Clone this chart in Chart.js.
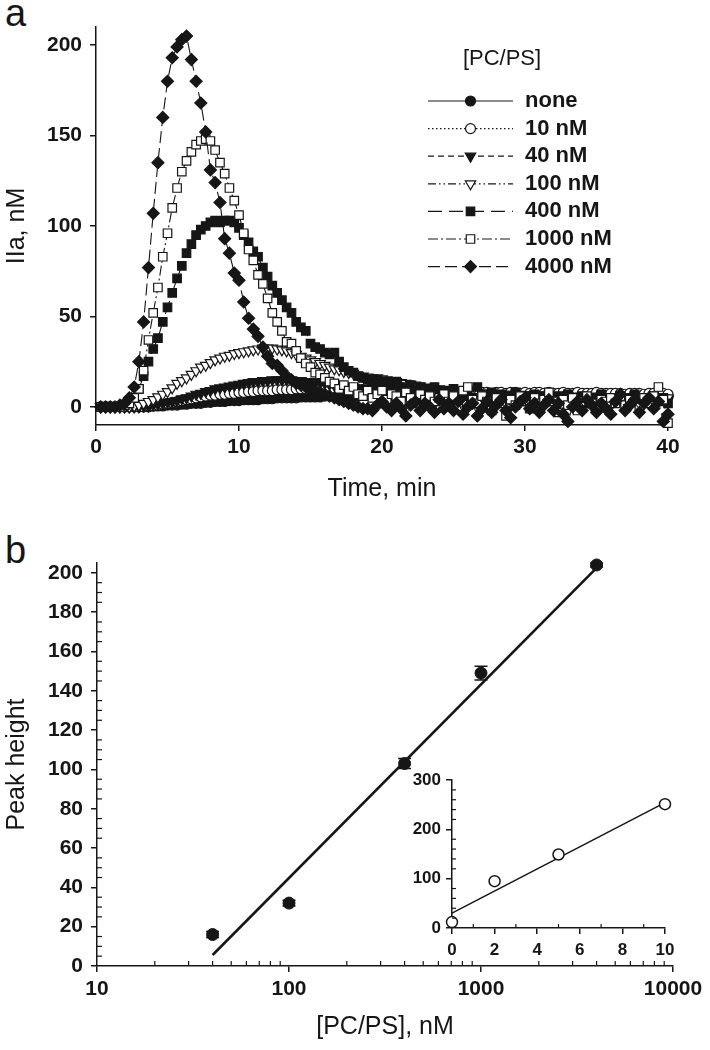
<!DOCTYPE html>
<html>
<head>
<meta charset="utf-8">
<script src="https://cdn.jsdelivr.net/npm/chart.js@4.4.1/dist/chart.umd.min.js"></script>
<style>
  body { margin: 0; background: #fff; width: 710px; height: 1050px; position: relative; overflow: hidden;
         font-family: "Liberation Sans", Arial, Helvetica, sans-serif; }
  canvas { position: absolute; }
  .tag { position: absolute; left: 5px; font-size: 38px; line-height: 1; color: #161616; }
</style>
</head>
<body>
<div class="tag" style="top:-6px">a</div>
<div class="tag" style="top:531px">b</div>
<canvas id="curves" width="710" height="510" style="left:0;top:0"></canvas>
<canvas id="peaks" width="710" height="550" style="left:0;top:500px"></canvas>
<canvas id="inset" width="290" height="200" style="left:400px;top:760px"></canvas>
<script>
// ---- panel a: thrombin generation curves ----
const TIME = [
  0.33,0.67,1,1.33,1.67,2,2.33,2.67,3,3.33,3.67,4,
  4.33,4.67,5,5.33,5.67,6,6.33,6.67,7,7.33,7.67,8,
  8.33,8.67,9,9.33,9.67,10,10.33,10.67,11,11.33,11.67,12,
  12.33,12.67,13,13.33,13.67,14,14.33,14.67,15,15.33,15.67,16,
  16.33,16.67,17,17.33,17.67,18,18.33,18.67,19,19.33,19.67,20,
  20.33,20.67,21,21.33,21.67,22,22.33,22.67,23,23.33,23.67,24,
  24.33,24.67,25,25.33,25.67,26,26.33,26.67,27,27.33,27.67,28,
  28.33,28.67,29,29.33,29.67,30,30.33,30.67,31,31.33,31.67,32,
  32.33,32.67,33,33.33,33.67,34,34.33,34.67,35,35.33,35.67,36,
  36.33,36.67,37,37.33,37.67,38,38.33,38.67,39,39.33,39.67,40
];
const NONE = [
  0,0,0,0,0,0,0,0,0,0,0,0.5,
  0.5,0.5,1,1,1,1.5,1.5,2,2,2,2.5,2.5,
  3,3,3,3.5,3.5,3.5,4,4,4,4,4.5,4.5,
  4.5,5,5,5,5,5,5.5,5.5,5.5,5.5,5.5,6,
  6,6,6,6,6,6,6,6.5,6.5,6.5,6.5,6.5,
  6.5,6.5,6.5,6,6.5,6.5,6.5,6.5,6,6.5,6.5,6.5,
  6.5,6,6.5,6.5,6,6.5,6.5,6,6.5,6.5,6,6.5,
  6,6.5,6,6.5,6,6,6.5,6,6,6.5,6,6,
  6,6,6.5,6,6,5.5,6,6,5.5,6,6,5.5,
  6,5.5,6,5.5,6,5.5,5.5,6,5.5,5.5,6,5.5
];
const NM10 = [
  0,0,0,0,0,0,0,0,0,0,0.5,0.5,
  1,1.5,2,2.5,3,3.5,4,4.5,5,5.5,6,6.5,
  6.5,7,7,7.5,7.5,8,8,8.5,8.5,9,9,9,
  9,9.5,9.5,9.5,9.5,10,10,10,10,10,10,10,
  10,10,10,10,9.5,9.5,9.5,9.5,9.5,9,9,9,
  9,9,9,9,8.5,8.5,8.5,8.5,8.5,8.5,8.5,8,
  8,8,8,8,8,8,8,8,8,8,7.5,8,
  8,7.5,8,8,7.5,8,7.5,8,8,7.5,8,7.5,
  7.5,8,7.5,7.5,8,7.5,7.5,7.5,8,7.5,7.5,7.5,
  7.5,7.5,7,7.5,7.5,7.5,7,7.5,7.5,7,7.5,7
];
const NM40 = [
  0,0,0,0,0,0,0,0,0,0.5,0.5,1,
  1.5,2,2.5,3,3.5,4.5,5,6,7,7.5,8.5,9,
  10,10.5,11,11.5,12,12.5,13,13.5,14,14,14.5,14.5,
  15,15,15,15,15,14.5,14.5,14,14,13.5,13.5,13,
  12.5,12,12,11.5,11,11,10.5,10,10,9.5,9.5,9,
  9,8.5,8.5,8,8,7.5,7.5,7,7,7,6.5,6.5,
  6.5,6,6,6,6,5.5,5.5,5.5,5.5,5,5,5,
  5,5,5,5,4.5,5,4.5,5,4.5,4.5,5,4.5,
  4.5,4.5,4.5,5,4.5,4.5,4.5,4.5,4,4.5,4.5,4.5,
  4.5,4,4.5,4.5,4,4.5,4,4.5,4,4,4.5,4
];
const NM100 = [
  0,0,0,0,0,0,0,0.5,1,2,3,4,
  5.5,7,8.5,10.5,13,14.5,16,18,20,22,23,24.5,
  26,27,28,28.5,29.5,30,30.5,31,31.5,32,32.5,32.5,
  32.5,32,31.5,31,30,29,28,27,26,25,24,23,
  22,21,20.5,19.5,19,18.5,17.5,17,16.5,16,16,15.5,
  15,14.5,14,13.5,13,12.5,12,11.5,11,10.5,10,10,
  9.5,9,9,8.5,8.5,8,8,8,7.5,7.5,7.5,7,
  7,7,7,6.5,7,6.5,6.5,6.5,6,6.5,6,6,
  6,6,6,5.5,6,5.5,5.5,6,5.5,5.5,5.5,5.5,
  5.5,5.5,5,5.5,5.5,5,5.5,5,5,5.5,5,5
];
const NM400 = [
  0,0,0,0,0,1,2,5,10,17,25,32,
  38,47,55,63,71,78,85,90,95,98,100,102,
  103,102,103,103,102,99,95,91,86,83,77,72,
  67,63,59,55,52,47,44,42,35,33,32,30,
  29,30,25,22,20,19,17,16,15,14,15,13,
  14,12,14,11,10,12,9,11,8,10,11,8,
  9,7,10,6,8,9,5,11,7,6,8,5,
  7,4,6,8,3,6,5,7,4,6,3,5,
  6,4,7,3,5,6,2,5,4,7,3,5,
  4,6,3,5,7,2,5,4,6,3,5,2
];
const NM1000 = [
  0,0,0,0,0,1,2,5,10,20,37,52,
  66,83,96,110,121,130,136,141,145,147,148,147,
  142,135,129,121,114,106,96,87,81,73,68,60,
  52,47,42,36,35,31,27,24,22,19,18,16,
  14,13,10,12,9,11,7,6,9,5,7,9,
  4,7,6,3,8,5,2,7,4,6,3,5,
  7,3,6,-1,9,11,4,2,6,3,-2,5,
  2,-5,4,1,6,3,-1,5,2,4,8,3,
  -3,4,1,5,-2,3,6,2,-1,4,3,5,
  2,6,1,4,3,0,5,2,6,11,4,-9
];
const NM4000 = [
  0,0,0,0,1,2,5,11,25,47,77,107,
  135,160,180,193,199,203,205,192,180,168,152,131,
  124,113,93,85,74,70,58,49,43,39,33,28,
  24,23,20,17,15,13,12,11,10,9,8,7,
  6,5,4,3,2,1,0,-1,-1,-2,1,3,
  0,-2,2,-1,-5,1,3,-2,2,0,-3,4,
  -1,2,-2,3,-4,0,2,-5,-1,3,-3,1,
  4,-2,-6,0,3,5,-1,2,-3,1,4,-2,
  2,-4,-8,0,3,-2,4,1,-3,2,-1,-4,
  3,7,-2,1,4,-3,2,5,-1,3,-8,-4
];
const SERIES = [NONE, NM10, NM40, NM100, NM400, NM1000, NM4000];
const SERIES_LABELS = ['none', '10 nM', '40 nM', '100 nM', '400 nM', '1000 nM', '4000 nM'];
const LEGEND_TITLE = '[PC/PS]';
const TIME_TICKS = [0, 10, 20, 30, 40];
const IIA_TICKS = [0, 50, 100, 150, 200];

// ---- panel b: peak height vs phospholipid ----
const PCPS = [40, 100, 400, 1000, 4000];
const PEAK = [16, 32, 103, 149, 204];
const PEAK_ERR = [1.5, 1.5, 2.5, 3.5, 1];
const FIT_X = [40, 4000];
const FIT_Y = [5.6, 202.5];
const PCPS_TICKS = [10, 100, 1000, 10000];
const PEAK_TICKS = [0, 20, 40, 60, 80, 100, 120, 140, 160, 180, 200];

// inset
const INSET_X = [0, 2, 5, 10];
const INSET_Y = [12, 95, 149, 251];
const INSET_FIT_X = [0, 10];
const INSET_FIT_Y = [30, 254];
const INSET_X_TICKS = [0, 2, 4, 6, 8, 10];
const INSET_Y_TICKS = [0, 100, 200, 300];

const INK = '#161616';
const FONT = '"Liberation Sans", Arial, Helvetica, sans-serif';

// marker and dash look of each curve, same order as SERIES
const STYLES = [
  { dash: [],                     point: 'circle',   rot: 0,   fill: INK,    r: 5 },
  { dash: [1.5, 2.5],             point: 'circle',   rot: 0,   fill: '#fff', r: 5 },
  { dash: [6, 4],                 point: 'triangle', rot: 180, fill: INK,    r: 6 },
  { dash: [8, 3, 1.5, 3, 1.5, 3], point: 'triangle', rot: 180, fill: '#fff', r: 6 },
  { dash: [14, 7],                point: 'rect',     rot: 0,   fill: INK,    r: 6 },
  { dash: [10, 3, 2, 3],          point: 'rect',     rot: 0,   fill: '#fff', r: 6 },
  { dash: [12, 5],                point: 'rectRot',  rot: 0,   fill: INK,    r: 6 },
];

Chart.defaults.animation = false;
Chart.defaults.responsive = false;
Chart.defaults.devicePixelRatio = 1;
Chart.defaults.plugins.legend.display = false;
Chart.defaults.plugins.tooltip.enabled = false;
Chart.defaults.font.family = FONT;
Chart.defaults.color = INK;

const pts = (xs, ys) => xs.map((x, i) => ({ x: x, y: ys[i] }));
const fixTicks = list => s => { s.ticks = list.map(v => ({ value: v })); };

// short ticks pointing into the plot (minor ticks)
const innerTicks = {
  id: 'innerTicks',
  afterDraw(chart, args, opts) {
    const ctx = chart.ctx;
    ctx.save();
    ctx.strokeStyle = INK;
    ctx.lineWidth = 1.2;
    (opts.list || []).forEach(m => {
      const s = chart.scales[m.axis];
      m.values.forEach(v => {
        const p = s.getPixelForValue(v);
        ctx.beginPath();
        if (s.isHorizontal()) { ctx.moveTo(p, s.top); ctx.lineTo(p, s.top - m.len); }
        else { ctx.moveTo(s.right, p); ctx.lineTo(s.right + m.len, p); }
        ctx.stroke();
      });
    });
    ctx.restore();
  }
};

// legend with line sample + marker
const seriesLegend = {
  id: 'seriesLegend',
  afterDraw(chart, args, o) {
    const ctx = chart.ctx;
    ctx.save();
    ctx.fillStyle = INK;
    ctx.textBaseline = 'middle';
    ctx.textAlign = 'center';
    ctx.font = '22px ' + FONT;
    ctx.fillText(LEGEND_TITLE, o.titleX, o.titleY);
    ctx.textAlign = 'left';
    ctx.font = 'bold 22px ' + FONT;
    SERIES_LABELS.forEach((lab, i) => {
      const st = STYLES[i];
      const y = o.top + i * o.step;
      ctx.strokeStyle = INK;
      ctx.lineWidth = 1.2;
      ctx.setLineDash(st.dash);
      ctx.beginPath(); ctx.moveTo(o.x0, y); ctx.lineTo(o.x1, y); ctx.stroke();
      ctx.setLineDash([]);
      ctx.fillStyle = st.fill;
      Chart.helpers.drawPoint(ctx, { pointStyle: st.point, rotation: st.rot, radius: st.r, borderWidth: 1.2 }, (o.x0 + o.x1) / 2, y);
      ctx.fillStyle = INK;
      ctx.fillText(lab, o.textX, y);
    });
    ctx.restore();
  }
};

const errorBars = {
  id: 'errorBars',
  afterDatasetsDraw(chart, args, o) {
    const ctx = chart.ctx, y = chart.scales.y;
    const meta = chart.getDatasetMeta(0);
    ctx.save();
    ctx.strokeStyle = INK;
    ctx.lineWidth = 1.5;
    meta.data.forEach((pt, i) => {
      const hi = y.getPixelForValue(PEAK[i] + PEAK_ERR[i]);
      const lo = y.getPixelForValue(PEAK[i] - PEAK_ERR[i]);
      ctx.beginPath();
      ctx.moveTo(pt.x, hi); ctx.lineTo(pt.x, lo);
      ctx.moveTo(pt.x - o.cap, hi); ctx.lineTo(pt.x + o.cap, hi);
      ctx.moveTo(pt.x - o.cap, lo); ctx.lineTo(pt.x + o.cap, lo);
      ctx.stroke();
    });
    ctx.restore();
  }
};

function axis(opts) {
  const a = {
    type: opts.type || 'linear',
    min: opts.min, max: opts.max,
    afterBuildTicks: fixTicks(opts.ticks),
    afterFit: opts.fit,
    grid: { drawOnChartArea: false, tickLength: 6, color: INK, lineWidth: 1.5 },
    border: { color: INK, width: 1.5 },
    ticks: { color: INK, font: { size: opts.size, weight: 'bold' }, padding: opts.pad, maxRotation: 0,
             autoSkip: false, callback: v => String(v) },
  };
  if (opts.title) a.title = { display: true, text: opts.title, color: INK, font: { size: 25 }, padding: opts.titlePad };
  return a;
}

// ---- chart a ----
new Chart(document.getElementById('curves'), {
  type: 'line',
  data: {
    datasets: SERIES.map((vals, i) => ({
      label: SERIES_LABELS[i],
      data: pts(TIME, vals),
      order: SERIES.length - 1 - i,
      borderColor: INK,
      borderWidth: 1.1,
      borderDash: STYLES[i].dash,
      pointStyle: STYLES[i].point,
      pointRotation: STYLES[i].rot,
      pointRadius: STYLES[i].r,
      pointBackgroundColor: STYLES[i].fill,
      pointBorderColor: INK,
      pointBorderWidth: 1.2,
      tension: 0,
      clip: false,
    }))
  },
  options: {
    layout: { padding: { left: 0, top: 27, right: 42, bottom: 0 } },
    scales: {
      x: axis({ min: 0, max: 40, ticks: TIME_TICKS, size: 21, pad: 4, fit: s => { s.height = 85; },
                title: 'Time, min', titlePad: { top: 0, bottom: 6 } }),
      y: axis({ min: -10, max: 210, ticks: IIA_TICKS, size: 21, pad: 8, fit: s => { s.width = 96; },
                title: 'IIa, nM', titlePad: { top: 2, bottom: 0 } }),
    },
    plugins: {
      seriesLegend: { titleX: 502, titleY: 59, top: 101, step: 27.6, x0: 428, x1: 513, textX: 525 }
    }
  },
  plugins: [seriesLegend]
});

// ---- chart b ----
const logMinor = [];
[10, 100, 1000].forEach(d => { for (let k = 2; k <= 9; k++) logMinor.push(d * k); });
const peakMinor = [];
for (let v = 5; v < 205; v += 5) if (v % 20) peakMinor.push(v);

new Chart(document.getElementById('peaks'), {
  type: 'scatter',
  data: {
    datasets: [
      { data: pts(PCPS, PEAK), pointRadius: 6, pointBackgroundColor: INK, pointBorderColor: INK,
        pointBorderWidth: 1, clip: false },
      { data: pts(FIT_X, FIT_Y), showLine: true, pointRadius: 0, borderColor: INK, borderWidth: 2.6, clip: false },
    ]
  },
  options: {
    layout: { padding: { left: 0, top: 63, right: 37, bottom: 0 } },
    scales: {
      x: axis({ type: 'logarithmic', min: 10, max: 10000, ticks: PCPS_TICKS, size: 21, pad: 5,
                fit: s => { s.height = 84; }, title: '[PC/PS], nM', titlePad: { top: 0, bottom: 8 } }),
      y: axis({ min: 0, max: 205, ticks: PEAK_TICKS, size: 21, pad: 8, fit: s => { s.width = 97; },
                title: 'Peak height', titlePad: { top: 2, bottom: 0 } }),
    },
    plugins: {
      innerTicks: { list: [ { axis: 'x', values: logMinor, len: 5 }, { axis: 'y', values: peakMinor, len: 5 } ] },
      errorBars: { cap: 6.5 }
    }
  },
  plugins: [innerTicks, errorBars]
});

// ---- inset ----
new Chart(document.getElementById('inset'), {
  type: 'scatter',
  data: {
    datasets: [
      { data: pts(INSET_X, INSET_Y), pointRadius: 5.5, pointBackgroundColor: '#fff', pointBorderColor: INK,
        pointBorderWidth: 1.5, clip: false },
      { data: pts(INSET_FIT_X, INSET_FIT_Y), showLine: true, pointRadius: 0, borderColor: INK, borderWidth: 1.5, clip: false },
    ]
  },
  options: {
    layout: { padding: { left: 0, top: 20, right: 25, bottom: 0 } },
    scales: {
      x: axis({ min: 0, max: 10, ticks: INSET_X_TICKS, size: 17, pad: 6, fit: s => { s.height = 32; } }),
      y: axis({ min: 0, max: 300, ticks: INSET_Y_TICKS, size: 17, pad: 5, fit: s => { s.width = 52; } }),
    },
    plugins: {
      innerTicks: { list: [
        { axis: 'x', values: [1, 3, 5, 7, 9], len: 4 },
        { axis: 'y', values: [20, 40, 60, 80, 120, 140, 160, 180, 220, 240, 260, 280], len: 4 }
      ] }
    }
  },
  plugins: [innerTicks]
});
</script>
</body>
</html>
